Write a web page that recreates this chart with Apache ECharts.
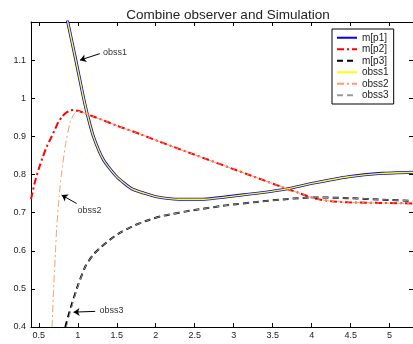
<!DOCTYPE html>
<html>
<head>
<meta charset="utf-8">
<script src="https://cdn.jsdelivr.net/npm/echarts@6/dist/echarts.min.js"></script>
<style>
  html, body { margin: 0; padding: 0; background: #fff; }
  #chart { width: 413px; height: 344px; }
</style>
</head>
<body>
<div id="chart"></div>
<script>
// tick labels
const xTicks = [0.5, 1, 1.5, 2, 2.5, 3, 3.5, 4, 4.5, 5]
const yTicks = [0.4, 0.5, 0.6, 0.7, 0.8, 0.9, 1, 1.1]

// series, [x, y]
const mp1 = [[0.866, 1.205], [0.975, 1.1], [1.075, 1.0], [1.12, 0.96], [1.2, 0.9],
  [1.33, 0.838], [1.5, 0.794], [1.69, 0.763], [1.85, 0.751], [2.0, 0.742], [2.3, 0.735],
  [2.6, 0.735], [3.1, 0.746], [3.65, 0.761], [4.04, 0.778], [4.47, 0.794], [4.9, 0.803], [5.3, 0.806]]
const mp2 = [[0.4, 0.735], [0.45, 0.78], [0.5, 0.815], [0.55, 0.845], [0.6, 0.872], [0.65, 0.893],
  [0.7, 0.915], [0.75, 0.937], [0.8, 0.952], [0.85, 0.962], [0.9, 0.968], [0.95, 0.969],
  [1.0, 0.967], [1.1, 0.96], [1.2, 0.952], [1.33, 0.942], [1.5, 0.928], [1.8, 0.906],
  [2.05, 0.886], [3.62, 0.767], [3.83, 0.752], [4.04, 0.737], [4.25, 0.73], [4.47, 0.727], [5.3, 0.724]]
const mp3 = [[0.84, 0.4], [0.9, 0.444], [1.0, 0.508], [1.1, 0.56], [1.2, 0.59], [1.3, 0.61],
  [1.42, 0.63], [1.54, 0.647], [1.7, 0.664], [1.9, 0.68], [2.1, 0.692], [2.5, 0.707],
  [2.9, 0.719], [3.3, 0.728], [3.7, 0.736], [4.04, 0.74], [4.47, 0.738], [4.9, 0.734], [5.3, 0.731]]
const obss1 = [[0.866, 1.205], [0.975, 1.1], [1.075, 1.0], [1.12, 0.96], [1.2, 0.9],
  [1.33, 0.838], [1.5, 0.794], [1.69, 0.763], [1.85, 0.751], [2.0, 0.742], [2.3, 0.735],
  [2.6, 0.735], [3.1, 0.746], [3.65, 0.761], [4.04, 0.778], [4.47, 0.794], [4.9, 0.803], [5.3, 0.806]]
const obss2 = [[0.67, 0.4], [0.69, 0.5], [0.713, 0.593], [0.73, 0.662], [0.76, 0.74], [0.79, 0.8],
  [0.84, 0.875], [0.9, 0.935], [0.95, 0.958], [1.0, 0.966], [1.05, 0.964], [1.1, 0.96],
  [1.2, 0.952], [1.33, 0.942], [1.5, 0.928], [1.8, 0.906], [2.05, 0.886], [3.62, 0.767],
  [3.83, 0.752], [4.04, 0.737], [4.25, 0.73], [4.47, 0.727], [5.3, 0.724]]
const obss3 = [[0.855, 0.4], [0.91, 0.444], [1.0, 0.506], [1.1, 0.56], [1.2, 0.59], [1.3, 0.61],
  [1.42, 0.63], [1.54, 0.647], [1.7, 0.664], [1.9, 0.68], [2.1, 0.692], [2.5, 0.707],
  [2.9, 0.719], [3.3, 0.728], [3.7, 0.736], [4.04, 0.74], [4.47, 0.738], [4.9, 0.734], [5.3, 0.731]]

// text labels with arrow: [text position, arrow tail, arrow tip]
const notes = [
  { name: 'obss1', at: [1.325, 1.12], from: [1.283, 1.117], to: [1.028, 1.1] },
  { name: 'obss2', at: [0.997, 0.706], from: [0.985, 0.724], to: [0.793, 0.746] },
  { name: 'obss3', at: [1.278, 0.442], from: [1.223, 0.441], to: [0.946, 0.439] }
]

const font = 'Liberation Sans, Arial, sans-serif'
const chart = echarts.init(document.getElementById('chart'))

const line = (name, data, color, width, type) => ({
  name,
  type: 'line',
  data,
  symbol: 'none',
  smooth: 0.2,
  lineStyle: { color, width, type },
  itemStyle: { color },
  animation: false
})

const series = [
  line('m[p1]', mp1, '#0000ff', 3, 'solid'),
  line('m[p2]', mp2, '#ff0000', 2, [7, 3, 2, 3]),
  line('m[p3]', mp3, '#000000', 2, [6, 4]),
  line('obss1', obss1, '#ffff00', 1.4, 'solid'),
  line('obss2', obss2, '#ff9966', 1, [7, 3, 2, 3]),
  line('obss3', obss3, '#999999', 1, [6, 4])
]

// arrows and their texts
series.push({
  type: 'line',
  data: [],
  silent: true,
  markLine: {
    silent: true,
    symbol: ['none', 'arrow'],
    symbolSize: 6,
    label: { show: false },
    lineStyle: { color: '#000', width: 1, type: 'solid' },
    data: notes.map(n => [{ coord: n.from }, { coord: n.to }])
  },
  markPoint: {
    silent: true,
    symbol: 'circle',
    symbolSize: 0,
    label: {
      show: true,
      position: 'right',
      distance: 0,
      formatter: p => p.name,
      fontFamily: font,
      fontSize: 9,
      color: '#333'
    },
    data: notes.map(n => ({ name: n.name, coord: n.at }))
  }
})

const option = {
  animation: false,
  title: {
    text: 'Combine observer and Simulation',
    left: 223,
    top: 3,
    textAlign: 'center',
    textStyle: { fontFamily: font, fontSize: 13.5, fontWeight: 'normal', color: '#222' }
  },
  legend: {
    orient: 'vertical',
    left: 332,
    top: 29,
    padding: [3, 5, 3, 4],
    itemGap: 0,
    itemWidth: 20,
    itemHeight: 8,
    backgroundColor: '#fff',
    borderColor: '#000',
    borderWidth: 1,
    itemStyle: { color: 'transparent', borderWidth: 0, opacity: 0 },
    lineStyle: { width: 2 },
    textStyle: { fontFamily: font, fontSize: 10, color: '#222', lineHeight: 11.5 },
    data: ['m[p1]', 'm[p2]', 'm[p3]', 'obss1', 'obss2', 'obss3']
  },
  grid: { left: 31, top: 22, right: -3, bottom: 17 },
  xAxis: [
    {
      type: 'value',
      min: 0.4,
      max: 5.3,
      axisLine: { lineStyle: { color: '#000', width: 1 } },
      axisTick: { inside: true, length: 4, customValues: xTicks, lineStyle: { color: '#000' } },
      axisLabel: { customValues: xTicks, fontFamily: font, fontSize: 9, color: '#222', margin: 4 },
      splitLine: { show: false }
    },
    {
      type: 'value',
      position: 'top',
      min: 0.4,
      max: 5.3,
      axisLine: { lineStyle: { color: '#000', width: 1 } },
      axisTick: { inside: true, length: 4, customValues: xTicks, lineStyle: { color: '#000' } },
      axisLabel: { show: false },
      splitLine: { show: false }
    }
  ],
  yAxis: [
    {
      type: 'value',
      min: 0.4,
      max: 1.2,
      axisLine: { show: true, lineStyle: { color: '#000', width: 1 } },
      axisTick: { show: true, inside: true, length: 4, customValues: yTicks, lineStyle: { color: '#000' } },
      axisLabel: { customValues: yTicks, fontFamily: font, fontSize: 9, color: '#222', margin: 5 },
      splitLine: { show: false }
    },
    {
      type: 'value',
      position: 'right',
      min: 0.4,
      max: 1.2,
      axisLine: { show: true, lineStyle: { color: '#000', width: 1 } },
      axisTick: { show: true, inside: true, length: 4, customValues: yTicks, lineStyle: { color: '#000' } },
      axisLabel: { show: false },
      splitLine: { show: false }
    }
  ],
  series
}

chart.setOption(option)
</script>
</body>
</html>
